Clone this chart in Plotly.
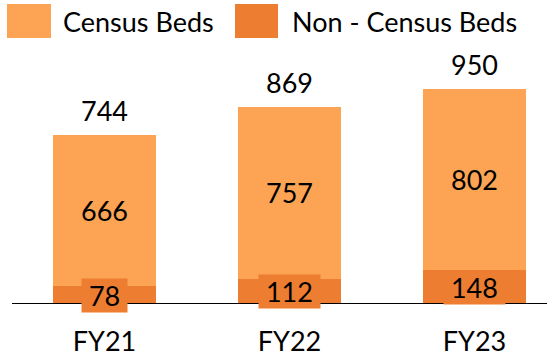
import plotly.graph_objects as go

# Bed counts by fiscal year
years = ["FY21", "FY22", "FY23"]
census_beds = [666, 757, 802]
non_census_beds = [78, 112, 148]
totals = [744, 869, 950]

LIGHT = "#FCA453"
DARK = "#ED7D31"
FONT = "Lato"
FS = 27

W, H = 547, 360
ML, MR, MT, MB = 12, 0, 60, 56
PW, PH = W - ML - MR, H - MT - MB


def px_x(px):
    return (px - ML) / PW


def px_y(py):
    return (H - MB - py) / PH


fig = go.Figure()
fig.add_trace(go.Bar(x=years, y=non_census_beds, name="Non - Census Beds",
                     marker=dict(color=DARK, line=dict(width=0)), width=0.557))
fig.add_trace(go.Bar(x=years, y=census_beds, name="Census Beds",
                     marker=dict(color=LIGHT, line=dict(width=0)), width=0.557))

annotations = []
for yr, nc, c, t in zip(years, non_census_beds, census_beds, totals):
    annotations.append(dict(x=yr, y=nc / 2, xref="x", yref="y",
                            text="&nbsp;" + str(nc) + "&nbsp;",
                            showarrow=False, bgcolor=DARK, borderpad=0,
                            font=dict(family=FONT, size=FS, color="black")))
    annotations.append(dict(x=yr, y=nc + c / 2, xref="x", yref="y", text=str(c),
                            showarrow=False,
                            font=dict(family=FONT, size=FS, color="black")))
    annotations.append(dict(x=yr, y=t, xref="x", yref="y", text=str(t),
                            showarrow=False, yanchor="bottom", yshift=6,
                            font=dict(family=FONT, size=FS, color="black")))

# legend drawn as swatches and labels above the plot
legend_items = [("Census Beds", LIGHT, 7, 51, 61), ("Non - Census Beds", DARK, 235, 278, 290)]
shapes = []
for label, col, sx0, sx1, tx in legend_items:
    shapes.append(dict(type="rect", xref="paper", yref="paper",
                       x0=px_x(sx0), x1=px_x(sx1), y0=px_y(38), y1=px_y(4),
                       fillcolor=col, line=dict(width=0), layer="above"))
    annotations.append(dict(x=px_x(tx), y=px_y(21), xref="paper", yref="paper",
                            text=label, showarrow=False, xanchor="left", yanchor="middle",
                            font=dict(family=FONT, size=FS, color="black")))

# baseline
shapes.append(dict(type="line", xref="paper", yref="y", x0=0, x1=1, y0=0, y1=0,
                   line=dict(color="black", width=2), layer="above"))

fig.update_layout(
    barmode="stack",
    width=W, height=H,
    margin=dict(l=ML, r=MR, t=MT, b=MB),
    paper_bgcolor="white", plot_bgcolor="white",
    showlegend=False,
    annotations=annotations,
    shapes=shapes,
    font=dict(family=FONT, size=FS, color="black"),
    xaxis=dict(range=[-0.5, 2.392], showline=False, showgrid=False, ticks="",
               ticklabelstandoff=19,
               tickfont=dict(family=FONT, size=FS, color="black")),
    yaxis=dict(range=[0, PH / 0.2267], visible=False, showgrid=False, zeroline=False),
)

fig.write_html("out.html")
